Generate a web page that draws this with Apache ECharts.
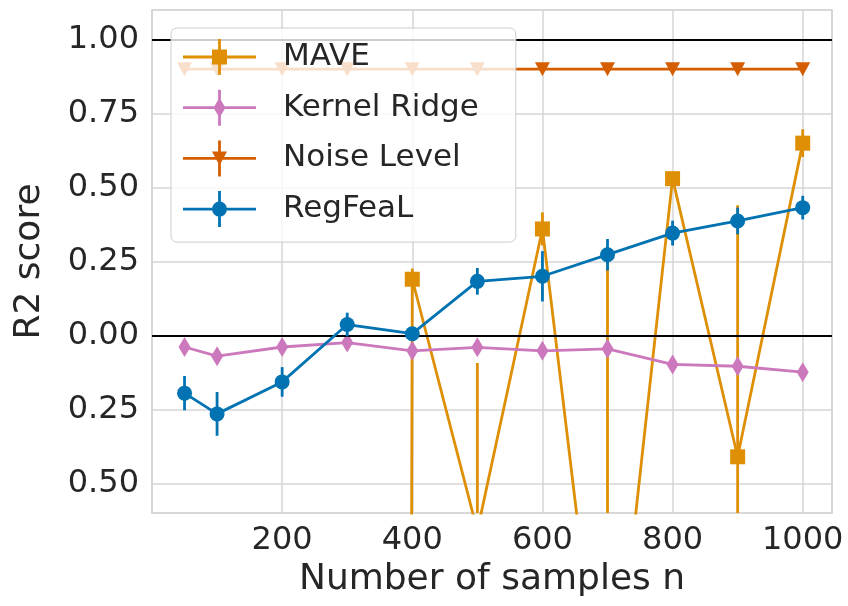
<!DOCTYPE html>
<html>
<head>
<meta charset="utf-8">
<script src="https://cdn.jsdelivr.net/npm/echarts@6/dist/echarts.min.js"></script>
<style>
  html, body { margin: 0; padding: 0; background: #fff; }
  #main { width: 848px; height: 606px; }
</style>
</head>
<body>
<div id="main"></div>
<script>
// sample sizes on the x axis
var xs = [50, 100, 200, 300, 400, 500, 600, 700, 800, 900, 1000];

// R2 scores (MAVE runs far below the axis before n=400)
var mave      = [null, null, null, -80, 0.19, -0.66, 0.36, -1.47, 0.53, -0.41, 0.65];
var maveErr   = [null, null, null, 0, 0.036, 0.567, 0.056, 1.72, 0.02, 0.85, 0.047];
var kernel    = [-0.039, -0.07, -0.039, -0.024, -0.052, -0.04, -0.052, -0.045, -0.098, -0.104, -0.124];
var kernelErr = [0.006, 0.006, 0.005, 0.005, 0.006, 0.005, 0.006, 0.005, 0.006, 0.006, 0.006];
var noise     = [0.9, 0.9, 0.9, 0.9, 0.9, 0.9, 0.9, 0.9, 0.9, 0.9, 0.9];
var noiseErr  = [0, 0, 0, 0, 0, 0, 0, 0, 0, 0, 0];
var regfeal   = [-0.195, -0.265, -0.157, 0.037, 0.006, 0.183, 0.2, 0.273, 0.346, 0.387, 0.432];
var regErr    = [0.058, 0.074, 0.05, 0.04, 0.012, 0.045, 0.085, 0.053, 0.042, 0.045, 0.04];

var xTicks = [200, 400, 600, 800, 1000];
var yTicks = [-0.5, -0.25, 0, 0.25, 0.5, 0.75, 1.0];
var refLines = [0, 1];

var FONT = 'DejaVu Sans';
var TXT = '#262626';
var LW = 2.8;

// legend handles: line + vertical error bar + marker, all in one path
var bars = 'M0 16.6 H73 V19.4 H0 Z M35.1 0 H37.9 V36 H35.1 Z ';
var icons = {
  MAVE: 'path://' + bars + 'M29 10.5 H44 V25.5 H29 Z',
  kr: 'path://' + bars + 'M36.5 8 L42.5 18 L36.5 28 L30.5 18 Z',
  noise: 'path://' + bars + 'M29 11 L44 11 L36.5 25 Z',
  reg: 'path://' + bars + 'M29 18 A7.5 7.5 0 1 1 44 18 A7.5 7.5 0 1 1 29 18 Z'
};

function pairs(ys) {
  return xs.map(function (x, i) { return [x, ys[i]]; });
}

function errSeries(name, ys, errs, color, z) {
  var d = [];
  for (var i = 0; i < xs.length; i++) {
    if (ys[i] == null || errs[i] == null) continue;
    d.push([xs[i], ys[i] - errs[i], ys[i] + errs[i]]);
  }
  return {
    type: 'custom',
    name: name,
    z: z,
    silent: true,
    clip: true,
    animation: false,
    data: d,
    encode: { x: 0, y: [1, 2] },
    renderItem: function (params, api) {
      var lo = api.coord([api.value(0), api.value(1)]);
      var hi = api.coord([api.value(0), api.value(2)]);
      return {
        type: 'line',
        shape: { x1: lo[0], y1: lo[1], x2: hi[0], y2: hi[1] },
        style: { stroke: color, lineWidth: LW }
      };
    }
  };
}

function lineSeries(name, ys, color, symbol, size, z, rotate) {
  return {
    type: 'line',
    name: name,
    z: z,
    data: pairs(ys),
    color: color,
    symbol: symbol,
    symbolSize: size,
    symbolRotate: rotate || 0,
    showSymbol: true,
    showAllSymbol: true,
    clip: true,
    connectNulls: false,
    animation: false,
    lineStyle: { color: color, width: LW },
    itemStyle: { color: color, opacity: 1 },
    emphasis: { disabled: true }
  };
}

var myChart = echarts.init(document.getElementById('main'));

var option = {
  backgroundColor: '#ffffff',
  animation: false,
  textStyle: { fontFamily: FONT },
  grid: {
    left: 152, right: 16, top: 10, bottom: 93,
    show: true,
    borderColor: '#cccccc',
    borderWidth: 1.5,
    backgroundColor: '#ffffff'
  },
  xAxis: {
    type: 'value',
    min: 0,
    max: 1045,
    interval: 200,
    name: 'Number of samples n',
    nameLocation: 'middle',
    nameGap: 41,
    nameTextStyle: { fontSize: 36, color: TXT, fontFamily: FONT },
    axisLine: { show: false },
    axisTick: { show: false },
    axisLabel: {
      fontSize: 32, color: TXT, fontFamily: FONT, margin: 12,
      showMinLabel: false, showMaxLabel: false,
      formatter: function (v) { return xTicks.indexOf(v) >= 0 ? String(v) : ''; }
    },
    splitLine: { show: true, lineStyle: { color: '#d6d6d6', width: 1.5 } }
  },
  yAxis: {
    type: 'value',
    min: -0.6,
    max: 1.1,
    name: 'R2 score',
    nameLocation: 'middle',
    nameGap: 104,
    nameTextStyle: { fontSize: 36, color: TXT, fontFamily: FONT },
    axisLine: { show: false },
    axisTick: { show: false, customValues: yTicks },
    axisLabel: {
      fontSize: 32, color: TXT, fontFamily: FONT, margin: 13,
      customValues: yTicks,
      // the source figure lost its minus glyphs, so negatives print bare
      formatter: function (v) { return Math.abs(v).toFixed(2); }
    },
    splitLine: { show: true, lineStyle: { color: '#d6d6d6', width: 1.5 } }
  },
  legend: {
    orient: 'vertical',
    left: 171,
    top: 28,
    z: 20,
    itemWidth: 73,
    itemHeight: 36,
    itemGap: 14.7,
    padding: [11, 37, 15, 12],
    backgroundColor: 'rgba(255,255,255,0.8)',
    borderColor: '#cccccc',
    borderWidth: 1,
    borderRadius: 6,
    selectedMode: false,
    textStyle: { fontSize: 31, color: TXT, fontFamily: FONT, padding: [0, 0, 0, 22] },
    data: [
      { name: 'MAVE', icon: icons.MAVE },
      { name: 'Kernel Ridge', icon: icons.kr },
      { name: 'Noise Level', icon: icons.noise },
      { name: 'RegFeaL', icon: icons.reg }
    ]
  },
  series: [
    {
      type: 'line',
      name: 'ref',
      z: 1,
      data: [],
      silent: true,
      animation: false,
      markLine: {
        silent: true,
        symbol: 'none',
        animation: false,
        label: { show: false },
        lineStyle: { color: '#000000', width: 2, type: 'solid' },
        data: refLines.map(function (v) { return { yAxis: v }; })
      }
    },
    errSeries('MAVE err', mave, maveErr, '#de8f05', 3),
    lineSeries('MAVE', mave, '#de8f05', 'rect', 15, 3),
    errSeries('Kernel Ridge err', kernel, kernelErr, '#cc78bc', 4),
    lineSeries('Kernel Ridge', kernel, '#cc78bc', 'diamond', [12, 20], 4),
    errSeries('Noise Level err', noise, noiseErr, '#d55e00', 5),
    lineSeries('Noise Level', noise, '#d55e00', 'triangle', [15, 14], 5, 180),
    errSeries('RegFeaL err', regfeal, regErr, '#0173b2', 6),
    lineSeries('RegFeaL', regfeal, '#0173b2', 'circle', 15, 6)
  ]
};

myChart.setOption(option);
window.onresize = myChart.resize;
</script>
</body>
</html>
